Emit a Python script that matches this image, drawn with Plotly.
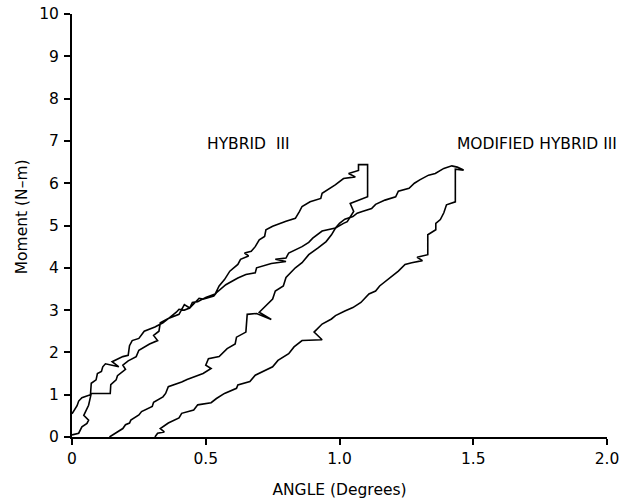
import plotly.graph_objects as go

# Hybrid III loop (loading then unloading), angle in degrees, moment in N-m
hybrid_angle = [
    0.0, 0.019, 0.025, 0.037, 0.069, 0.072, 0.09, 0.095, 0.11, 0.115, 0.125, 0.175, 0.15,
    0.19, 0.21, 0.215, 0.225, 0.25, 0.27, 0.31, 0.34, 0.36, 0.40, 0.42, 0.44, 0.45, 0.47,
    0.50, 0.535, 0.55, 0.57, 0.59, 0.62, 0.63, 0.66, 0.645, 0.67, 0.685, 0.70, 0.72, 0.725,
    0.75, 0.80, 0.835, 0.85, 0.86, 0.89, 0.93, 0.935, 0.966, 0.984, 1.015, 1.059, 1.034,
    1.071, 1.071, 1.105, 1.105,
    1.04, 1.053, 1.029, 1.015, 0.985, 0.935, 0.90, 0.885, 0.86, 0.81, 0.80, 0.76, 0.80,
    0.745, 0.69, 0.685, 0.65, 0.62, 0.575, 0.54, 0.53, 0.49, 0.475, 0.46, 0.44, 0.42, 0.40,
    0.39, 0.36, 0.33, 0.325, 0.305, 0.32, 0.29, 0.25, 0.24, 0.21, 0.19, 0.20, 0.17, 0.165,
    0.145, 0.143, 0.072, 0.069, 0.062, 0.044, 0.062, 0.056, 0.037, 0.025, 0.0,
]
hybrid_moment = [
    0.55, 0.74, 0.85, 0.93, 1.0, 1.27, 1.35, 1.5, 1.55, 1.66, 1.73, 1.66, 1.78,
    1.9, 1.93, 2.16, 2.28, 2.33, 2.5, 2.6, 2.7, 2.8, 2.9, 3.13, 3.05, 3.18, 3.2,
    3.3, 3.38, 3.57, 3.72, 3.92, 4.08, 4.2, 4.28, 4.35, 4.39, 4.5, 4.66, 4.74, 4.9,
    4.98, 5.1, 5.17, 5.33, 5.45, 5.56, 5.64, 5.76, 5.88, 5.96, 6.11, 6.15, 6.23,
    6.30, 6.44, 6.44, 5.68,
    5.52, 5.33, 5.09, 5.05, 4.94, 4.87, 4.7, 4.6, 4.5, 4.35, 4.23, 4.2, 4.15,
    4.1, 4.0, 3.88, 3.84, 3.76, 3.6, 3.41, 3.33, 3.26, 3.28, 3.18, 3.05, 3.0, 3.02,
    2.95, 2.8, 2.7, 2.5, 2.4, 2.28, 2.2, 2.05, 1.9, 1.8, 1.7, 1.6, 1.45, 1.35,
    1.24, 1.03, 1.03, 0.93, 0.75, 0.51, 0.4, 0.32, 0.24, 0.09, 0.05,
]

# Modified Hybrid III loop
modified_angle = [
    0.14, 0.16, 0.175, 0.19, 0.20, 0.215, 0.22, 0.25, 0.26, 0.30, 0.305, 0.34, 0.35, 0.36,
    0.41, 0.43, 0.49, 0.52, 0.50, 0.51, 0.55, 0.58, 0.61, 0.615, 0.65, 0.655, 0.69, 0.745,
    0.70, 0.75, 0.76, 0.79, 0.80, 0.835, 0.86, 0.885, 0.92, 0.95, 0.97, 0.985, 1.0, 1.02,
    1.05, 1.066, 1.085, 1.12, 1.135, 1.17, 1.21, 1.22, 1.26, 1.28, 1.30, 1.333, 1.358,
    1.39, 1.42, 1.44, 1.464, 1.433, 1.433,
    1.40, 1.39, 1.377, 1.36, 1.36, 1.33, 1.33, 1.29, 1.31, 1.27, 1.245, 1.22, 1.185, 1.15,
    1.135, 1.11, 1.08, 1.05, 1.02, 0.985, 0.97, 0.935, 0.905, 0.935, 0.86, 0.83, 0.81,
    0.77, 0.75, 0.71, 0.685, 0.665, 0.62, 0.615, 0.57, 0.54, 0.52, 0.47, 0.455, 0.41, 0.40,
    0.36, 0.33, 0.345, 0.32, 0.31,
]
modified_moment = [
    0.0, 0.08, 0.12, 0.2, 0.29, 0.33, 0.4, 0.52, 0.6, 0.72, 0.82, 0.95, 1.03, 1.19,
    1.3, 1.36, 1.5, 1.62, 1.7, 1.85, 1.9, 2.09, 2.2, 2.36, 2.48, 2.9, 2.92, 2.78,
    2.95, 3.26, 3.45, 3.57, 3.77, 4.0, 4.12, 4.31, 4.47, 4.62, 4.78, 4.94, 5.05, 5.15,
    5.21, 5.29, 5.33, 5.4, 5.5, 5.6, 5.68, 5.81, 5.88, 6.0, 6.08, 6.19, 6.23,
    6.35, 6.41, 6.38, 6.31, 6.33, 5.56,
    5.49, 5.3, 5.14, 5.05, 4.9, 4.78, 4.31, 4.25, 4.17, 4.12, 4.08, 3.92, 3.75, 3.57,
    3.45, 3.38, 3.18, 3.06, 2.98, 2.87, 2.79, 2.67, 2.48, 2.3, 2.28, 2.13, 1.97,
    1.81, 1.66, 1.54, 1.46, 1.31, 1.23, 1.15, 1.03, 0.91, 0.81, 0.76, 0.64, 0.56, 0.45,
    0.33, 0.2, 0.12, 0.09, 0.0,
]

x_tick_vals = [0, 0.5, 1.0, 1.5, 2.0]
x_tick_text = ["0", "0.5", "1.0", "1.5", "2.0"]
y_tick_vals = list(range(0, 11))
y_tick_text = [str(v) for v in y_tick_vals]

labels = ["HYBRID  III", "MODIFIED HYBRID III"]
label_x = [0.66, 1.74]
label_y = [6.92, 6.92]

font_family = "DejaVu Sans, Verdana, sans-serif"

fig = go.Figure()
fig.add_trace(go.Scatter(x=hybrid_angle, y=hybrid_moment, mode="lines",
                         line=dict(color="black", width=1.6), name="Hybrid III",
                         showlegend=False))
fig.add_trace(go.Scatter(x=modified_angle, y=modified_moment, mode="lines",
                         line=dict(color="black", width=1.6), name="Modified Hybrid III",
                         showlegend=False))

for t, xv, yv in zip(labels, label_x, label_y):
    fig.add_annotation(x=xv, y=yv, text=t, showarrow=False,
                       font=dict(family=font_family, size=15.5, color="black"))

# y-axis title as rotated annotation
fig.add_annotation(x=-0.093, xref="paper", y=5.2, yref="y", text="Moment (N\u2013m)",
                   textangle=-90, showarrow=False, xanchor="center", yanchor="middle",
                   font=dict(family=font_family, size=15.5, color="black"))

fig.update_layout(
    width=627, height=499,
    margin=dict(l=72, r=20, t=14, b=62),
    paper_bgcolor="white", plot_bgcolor="white",
    font=dict(family=font_family, size=15.5, color="black"),
    xaxis=dict(range=[0, 2.0], tickvals=x_tick_vals, ticktext=x_tick_text,
               showgrid=False, zeroline=False, showline=True, linecolor="black",
               linewidth=2, ticks="outside", ticklen=6, tickwidth=1.5, tickcolor="black",
               automargin=False,
               title=dict(text="ANGLE (Degrees)", standoff=18,
                          font=dict(family=font_family, size=15.5))),
    yaxis=dict(range=[0, 10], tickvals=y_tick_vals, ticktext=y_tick_text,
               showgrid=False, zeroline=False, showline=True, linecolor="black",
               linewidth=2, ticks="outside", ticklen=6, tickwidth=1.5, tickcolor="black",
               automargin=False, ticklabelstandoff=2),
)

# remove the page's default 8px body margin so the figure sits at the window's corner
fig.write_html("out.html",
               config={"displayModeBar": False},
               post_script="document.body.style.margin='0';document.body.style.overflow='hidden';")
